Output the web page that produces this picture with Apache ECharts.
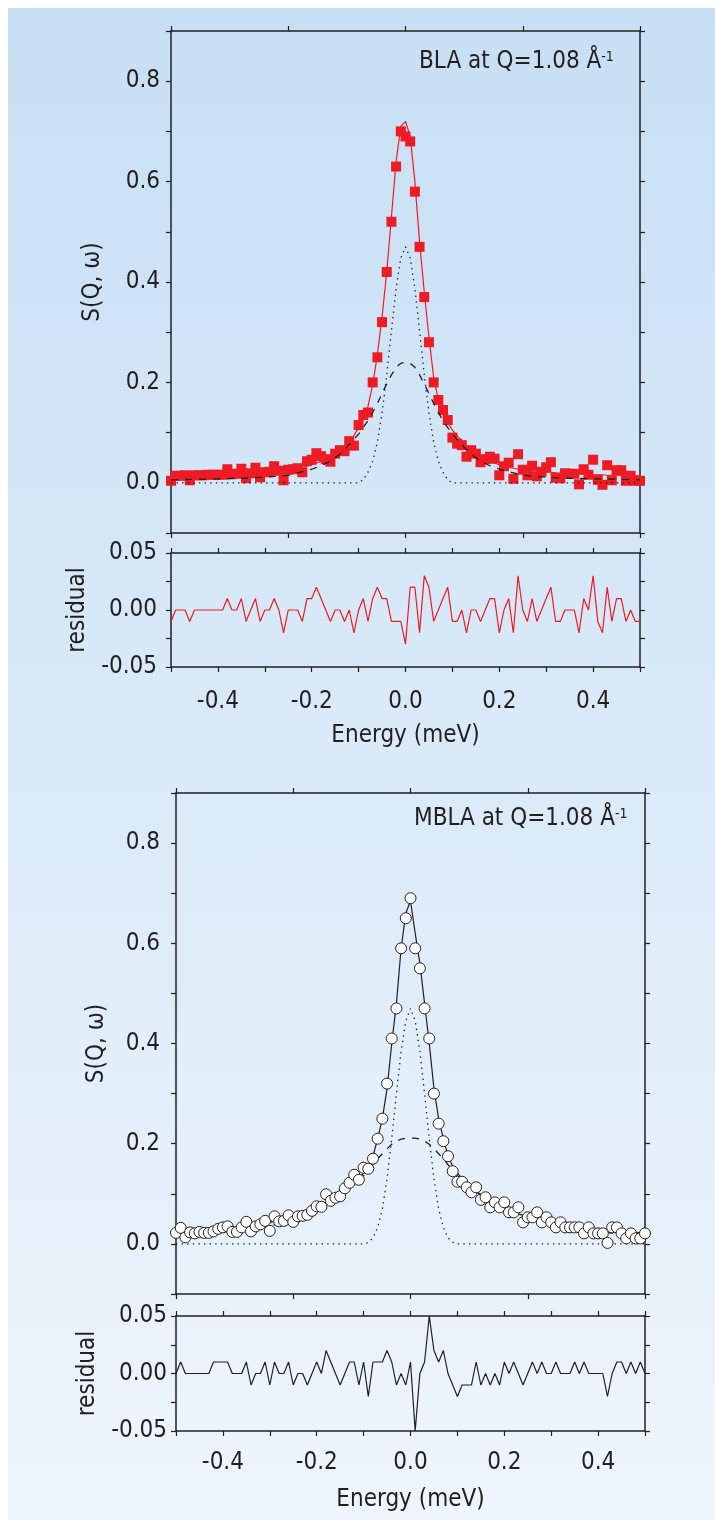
<!DOCTYPE html>
<html>
<head>
<meta charset="utf-8">
<script src="https://cdn.jsdelivr.net/npm/echarts@6.0.0/dist/echarts.min.js"></script>
<style>
body{margin:0;background:#fff;}
#bg{position:absolute;left:8px;top:8px;width:707px;height:1512px;background:linear-gradient(to bottom,#c7dff4,#eef5fc);}
#chart{position:absolute;left:0;top:0;width:715px;height:1520px;}
</style>
</head>
<body>
<div id="bg"></div>
<div id="chart"></div>
<script>
// energy grid (meV), shared by the data points and residuals
var energy = [-0.50,-0.49,-0.48,-0.47,-0.46,-0.45,-0.44,-0.43,-0.42,-0.41,
  -0.40,-0.39,-0.38,-0.37,-0.36,-0.35,-0.34,-0.33,-0.32,-0.31,
  -0.30,-0.29,-0.28,-0.27,-0.26,-0.25,-0.24,-0.23,-0.22,-0.21,
  -0.20,-0.19,-0.18,-0.17,-0.16,-0.15,-0.14,-0.13,-0.12,-0.11,
  -0.10,-0.09,-0.08,-0.07,-0.06,-0.05,-0.04,-0.03,-0.02,-0.01,
  0.00,
  0.01,0.02,0.03,0.04,0.05,0.06,0.07,0.08,0.09,0.10,
  0.11,0.12,0.13,0.14,0.15,0.16,0.17,0.18,0.19,0.20,
  0.21,0.22,0.23,0.24,0.25,0.26,0.27,0.28,0.29,0.30,
  0.31,0.32,0.33,0.34,0.35,0.36,0.37,0.38,0.39,0.40,
  0.41,0.42,0.43,0.44,0.45,0.46,0.47,0.48,0.49,0.50];

// BLA
var blaData = [0.004,0.014,0.014,0.015,0.005,0.015,0.015,0.015,0.016,0.016,
  0.016,0.016,0.027,0.017,0.018,0.028,0.009,0.019,0.030,0.011,
  0.021,0.022,0.033,0.024,0.005,0.026,0.027,0.029,0.021,0.043,
  0.046,0.059,0.053,0.047,0.042,0.058,0.065,0.063,0.083,0.074,
  0.115,0.135,0.14,0.20,0.25,0.32,0.42,0.52,0.63,0.70,
  0.69,
  0.68,0.58,0.47,0.37,0.28,0.20,0.165,0.145,0.125,0.09,
  0.078,0.075,0.052,0.065,0.058,0.041,0.047,0.052,0.048,0.015,
  0.033,0.040,0.008,0.057,0.026,0.015,0.034,0.013,0.022,0.031,
  0.041,0.010,0.009,0.019,0.018,0.018,-0.003,0.027,0.016,0.046,
  0.006,-0.004,0.035,0.005,0.025,0.025,0.004,0.014,0.004,0.004];
var blaFit = [0.014,0.014,0.014,0.014,0.015,0.015,0.015,0.015,0.016,0.016,
  0.016,0.016,0.017,0.017,0.018,0.018,0.019,0.019,0.020,0.021,
  0.021,0.022,0.023,0.024,0.025,0.026,0.027,0.029,0.031,0.033,
  0.036,0.039,0.043,0.047,0.052,0.058,0.065,0.073,0.083,0.094,
  0.110,0.127,0.152,0.195,0.255,0.33,0.42,0.53,0.64,0.71,
  0.72,
  0.69,0.60,0.48,0.38,0.29,0.21,0.165,0.14,0.12,0.105,
  0.094,0.083,0.073,0.065,0.058,0.052,0.047,0.043,0.039,0.036,
  0.033,0.031,0.029,0.027,0.026,0.025,0.024,0.023,0.022,0.021,
  0.021,0.020,0.019,0.019,0.018,0.018,0.017,0.017,0.016,0.016,
  0.016,0.016,0.015,0.015,0.015,0.015,0.014,0.014,0.014,0.014];
var blaResid = [-0.01,0,0,0,-0.01,0,0,0,0,0,
  0,0,0.01,0,0,0.01,-0.01,0,0.01,-0.01,
  0,0,0.01,0,-0.02,0,0,0,-0.01,0.01,
  0.01,0.02,0.01,0,-0.01,0,0,-0.01,0,-0.02,
  0,0.01,-0.01,0.01,0.02,0.01,0.01,-0.01,-0.01,-0.01,
  -0.03,
  0.02,0.02,-0.02,0.03,0.02,-0.01,0,0.01,0.02,-0.01,
  -0.01,0,-0.02,0,0,-0.01,0,0.01,0.01,-0.02,
  0,0.01,-0.02,0.03,0,-0.01,0.01,-0.01,0,0.01,
  0.02,-0.01,-0.01,0,0,0,-0.02,0.01,0,0.03,
  -0.01,-0.02,0.02,-0.01,0.01,0.01,-0.01,0,-0.01,-0.01];

// MBLA
var mblaData = [0.022,0.032,0.013,0.023,0.021,0.024,0.022,0.022,0.025,0.030,
  0.033,0.035,0.024,0.024,0.033,0.044,0.025,0.035,0.039,0.046,
  0.026,0.055,0.045,0.046,0.057,0.044,0.055,0.056,0.058,0.066,
  0.075,0.074,0.099,0.086,0.092,0.095,0.111,0.122,0.138,0.128,
  0.152,0.150,0.17,0.21,0.25,0.32,0.41,0.47,0.59,0.65,
  0.69,
  0.59,0.55,0.47,0.41,0.30,0.24,0.205,0.175,0.145,0.124,
  0.124,0.113,0.103,0.113,0.088,0.093,0.073,0.083,0.073,0.083,
  0.063,0.063,0.073,0.043,0.053,0.053,0.063,0.043,0.053,0.043,
  0.033,0.043,0.033,0.033,0.033,0.033,0.021,0.033,0.021,0.021,
  0.021,0.002,0.033,0.033,0.021,0.011,0.021,0.011,0.011,0.021];
var mblaFit = [0.022,0.022,0.023,0.023,0.024,0.024,0.025,0.025,0.026,0.027,
  0.028,0.029,0.030,0.031,0.033,0.034,0.035,0.037,0.039,0.041,
  0.043,0.045,0.047,0.049,0.052,0.054,0.057,0.060,0.063,0.066,
  0.070,0.074,0.079,0.084,0.090,0.097,0.104,0.112,0.120,0.130,
  0.142,0.155,0.175,0.21,0.25,0.31,0.40,0.48,0.59,0.66,
  0.685,
  0.62,0.56,0.48,0.40,0.31,0.25,0.21,0.175,0.155,0.142,
  0.130,0.120,0.112,0.104,0.097,0.090,0.084,0.079,0.074,0.070,
  0.066,0.063,0.060,0.057,0.054,0.052,0.049,0.047,0.045,0.043,
  0.041,0.039,0.037,0.035,0.034,0.033,0.031,0.030,0.029,0.028,
  0.027,0.026,0.025,0.025,0.024,0.024,0.023,0.023,0.022,0.022];
var mblaResid = [0,0.01,0,0,0,0,0,0,0.01,0.01,
  0.01,0.01,0,0,0,0.01,-0.01,0,0,0.01,
  -0.01,0.01,0,0,0.01,-0.01,0,0,-0.01,0,
  0.01,0,0.02,0.01,0,-0.01,0,0.01,0.01,-0.01,
  0.01,-0.02,0.01,0.01,0.01,0.02,0.01,-0.01,0,-0.01,
  0.01,
  -0.05,0,0.01,0.05,0.02,0.01,0.02,0,-0.01,-0.02,
  -0.01,-0.01,-0.01,0.01,-0.01,0,-0.01,0,-0.01,0.01,
  0,0.01,0,-0.01,0,0.01,0,0.01,0,0,
  0.01,0,0,0,0.01,0,0.01,0,0,0,
  0,-0.02,0,0.01,0.01,0,0.01,0,0.01,0];

// component curves (elastic = dotted, quasielastic = dashed)
var curveE = [-0.5,-0.45,-0.4,-0.35,-0.3,-0.25,-0.2,-0.18,-0.16,-0.14,-0.12,-0.1,
  -0.09,-0.08,-0.07,-0.06,-0.05,-0.04,-0.03,-0.02,-0.01,0,0.01,0.02,0.03,0.04,0.05,0.06,0.07,0.08,0.09,
  0.1,0.12,0.14,0.16,0.18,0.2,0.25,0.3,0.35,0.4,0.45,0.5];
var blaElastic = [0,0,0,0,0,0,0,0,0,0,0,0,
  0.006,0.021,0.043,0.081,0.139,0.215,0.303,0.387,0.448,0.47,0.448,0.387,0.303,0.215,0.139,0.081,0.043,0.021,0.006,
  0,0,0,0,0,0,0,0,0,0,0,0];
var blaQuasi = [0.006,0.007,0.008,0.009,0.011,0.015,0.027,0.034,0.043,0.057,0.076,0.097,
  0.110,0.124,0.140,0.158,0.178,0.197,0.215,0.230,0.238,0.240,0.238,0.230,0.215,0.197,0.178,0.158,0.140,0.124,0.110,
  0.097,0.076,0.057,0.043,0.034,0.027,0.015,0.011,0.009,0.008,0.007,0.006];
var mblaElastic = [0,0,0,0,0,0,0,0,0,0,0,0,
  0.003,0.012,0.033,0.07,0.13,0.21,0.30,0.385,0.445,0.47,0.445,0.385,0.30,0.21,0.13,0.07,0.033,0.012,0.003,
  0,0,0,0,0,0,0,0,0,0,0,0];
var mblaQuasi = [0.018,0.020,0.024,0.029,0.036,0.047,0.070,0.080,0.092,0.105,0.120,0.136,
  0.147,0.158,0.170,0.180,0.190,0.199,0.205,0.209,0.211,0.211,0.211,0.209,0.205,0.199,0.190,0.180,0.170,0.158,0.147,
  0.136,0.120,0.105,0.092,0.080,0.070,0.047,0.036,0.029,0.024,0.020,0.018];

var FONT = "'DejaVu Sans Condensed','Liberation Sans Narrow','DejaVu Sans',sans-serif";
var INK = '#231f20';
var RED = '#ed1c24';

function pairs(xs, ys){
  return xs.map(function(x, i){ return [x, ys[i]]; });
}
function txt(size){
  return {fontFamily: FONT, fontSize: size, color: INK};
}

// main panels: ticks every 0.1, labels 0.0 .. 0.8
function mainLabel(v){
  var k = Math.round(v * 10);
  return (k >= 0 && k <= 8 && k % 2 === 0) ? (k / 10).toFixed(1) : '';
}
function residLabel(v){
  var k = Math.round(v * 40);
  return k % 2 === 0 ? (k / 40).toFixed(2) : '';
}
function energyLabel(v){
  var k = Math.round(v * 10);
  return (Math.abs(k) < 5 && k % 2 === 0) ? (k / 10).toFixed(1) : '';
}

function xAxes(g, main, labelMargin, nameGap){
  var base = {
    type: 'value', gridIndex: g, min: -0.5, max: 0.5, interval: main ? 0.25 : 0.1,
    splitLine: {show: false},
    axisLine: {onZero: false, lineStyle: {color: INK, width: 1.5}},
    axisTick: {length: 5, lineStyle: {color: INK, width: 1.2}}
  };
  var bottom = Object.assign({}, base, {position: 'bottom'});
  if (main) {
    bottom.axisLabel = {show: false};
  } else {
    bottom.axisLabel = Object.assign(txt(24), {formatter: energyLabel, margin: labelMargin});
    bottom.name = 'Energy (meV)';
    bottom.nameLocation = 'middle';
    bottom.nameGap = nameGap;
    bottom.nameTextStyle = txt(24);
  }
  var top = Object.assign({}, base, {position: 'top', axisLabel: {show: false}});
  return [bottom, top];
}

function yAxes(g, main, labelMargin, nameGap){
  var base = {
    type: 'value', gridIndex: g,
    min: main ? -0.1 : -0.05, max: main ? 0.9 : 0.05, interval: main ? 0.1 : 0.025,
    splitLine: {show: false},
    axisLine: {onZero: false, lineStyle: {color: INK, width: 1.5}},
    axisTick: {length: 5, lineStyle: {color: INK, width: 1.2}}
  };
  var left = Object.assign({}, base, {
    position: 'left',
    axisLabel: Object.assign(txt(24), {formatter: main ? mainLabel : residLabel, margin: labelMargin}),
    name: main ? 'S(Q, ω)' : 'residual',
    nameLocation: 'middle', nameRotate: 90, nameGap: nameGap,
    nameTextStyle: txt(24)
  });
  var right = Object.assign({}, base, {position: 'right', axisLabel: {show: false}});
  return [left, right];
}

var xs = [].concat(xAxes(0, true), xAxes(1, false, 23, 57), xAxes(2, true), xAxes(3, false, 20, 57));
var ys = [].concat(yAxes(0, true, 11, 66), yAxes(1, false, 14, 71), yAxes(2, true, 16, 67), yAxes(3, false, 9, 68));

function fitLine(ax, data, color, z){
  return {type: 'line', xAxisIndex: ax, yAxisIndex: ax, data: data, symbol: 'none',
    lineStyle: {color: color, width: 1.2}, z: z};
}
function partLine(ax, data, dash, z){
  return {type: 'line', xAxisIndex: ax, yAxisIndex: ax, data: data, symbol: 'none',
    lineStyle: {color: INK, width: 1.3, type: dash}, z: z};
}

var chart = echarts.init(document.getElementById('chart'));
var option = {
  animation: false,
  backgroundColor: 'transparent',
  grid: [
    {left: 171, top: 31, width: 469, height: 502},
    {left: 171, top: 553, width: 469, height: 114},
    {left: 176, top: 793, width: 469, height: 501},
    {left: 176, top: 1316, width: 469, height: 115}
  ],
  xAxis: xs,
  yAxis: ys,
  graphic: [
    {type: 'text', x: 419, y: 50, style: {
      text: '{m|BLA at Q=1.08 Å}{s|-1}',
      rich: {m: {fontSize: 24, fontFamily: FONT, fill: INK}, s: {fontSize: 14, fontFamily: FONT, fill: INK, verticalAlign: 'top'}}
    }},
    {type: 'text', x: 414, y: 807, style: {
      text: '{m|MBLA at Q=1.08 Å}{s|-1}',
      rich: {m: {fontSize: 24, fontFamily: FONT, fill: INK}, s: {fontSize: 14, fontFamily: FONT, fill: INK, verticalAlign: 'top'}}
    }}
  ],
  series: [
    // BLA
    fitLine(0, pairs(energy, blaFit), RED, 2),
    {type: 'scatter', xAxisIndex: 0, yAxisIndex: 0, data: pairs(energy, blaData),
      symbol: 'rect', symbolSize: 10, itemStyle: {color: RED, opacity: 1}, z: 3},
    partLine(0, pairs(curveE, blaElastic), [1.4, 4.2], 4),
    partLine(0, pairs(curveE, blaQuasi), [7, 7], 4),
    fitLine(2, pairs(energy, blaResid), RED, 2),
    // MBLA
    fitLine(4, pairs(energy, mblaFit), INK, 2),
    partLine(4, pairs(curveE, mblaElastic), [1.4, 4.2], 3),
    partLine(4, pairs(curveE, mblaQuasi), [7, 7], 3),
    {type: 'scatter', xAxisIndex: 4, yAxisIndex: 4, data: pairs(energy, mblaData),
      symbol: 'circle', symbolSize: 11, itemStyle: {color: '#fff', borderColor: INK, borderWidth: 1, opacity: 1}, z: 4},
    fitLine(6, pairs(energy, mblaResid), INK, 2)
  ]
};
chart.setOption(option);
</script>
</body>
</html>
